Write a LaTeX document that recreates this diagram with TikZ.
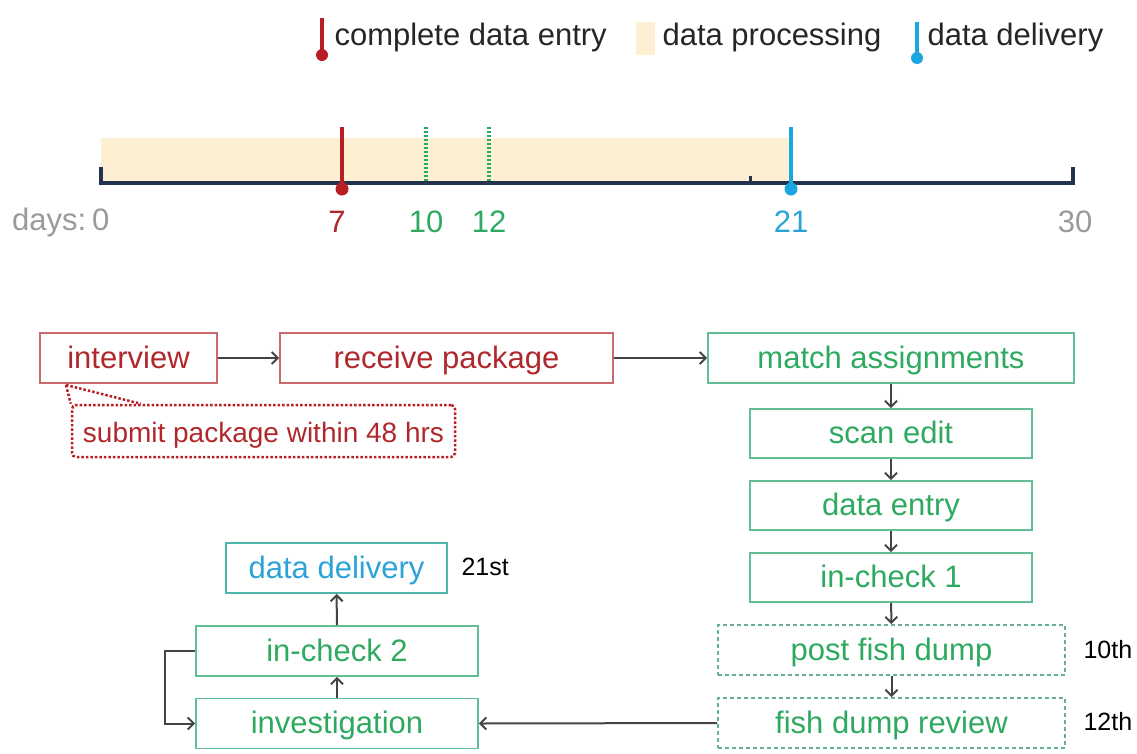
\documentclass[tikz,border=0pt]{standalone}
\usepackage{fontspec}
\setmainfont{Liberation Sans}
\usetikzlibrary{arrows.meta}
\definecolor{rtext}{HTML}{B0282C}
\definecolor{rline}{HTML}{C96A6E}
\definecolor{gtext}{HTML}{2EAA60}
\definecolor{gline}{HTML}{62BE94}
\definecolor{btext}{HTML}{2BA3D6}
\definecolor{bline}{HTML}{1AA6DE}
\definecolor{navy}{HTML}{23324F}
\definecolor{tan}{HTML}{FCEFD2}
\definecolor{greyl}{HTML}{9A9A9A}
\definecolor{darkred}{HTML}{B81E24}
\definecolor{arrowc}{HTML}{444444}
\tikzset{
  box/.style={draw, line width=1.8pt, inner sep=0pt, minimum height=50pt, text height=26pt, text depth=6pt, font=\fontsize{31}{34}\selectfont},
  redbox/.style={box, draw=rline, text=rtext},
  greenbox/.style={box, draw=gline, text=gtext},
  dashbox/.style={greenbox, dash pattern=on 4pt off 3pt, draw=gline!80!gray},
  bluebox/.style={box, draw=gline!70!bline, text=btext},
  note/.style={draw=darkred, line width=2.5pt, dotted, rounded corners=4pt, inner sep=0pt, minimum height=52pt, text height=26pt, text depth=4pt, text=rtext, font=\fontsize{28}{31}\selectfont},
  conn/.style={draw=arrowc, line width=2pt, -{Straight Barb[length=6pt,width=12pt]}},
  side/.style={font=\fontsize{25}{28}\selectfont, text=black},
  tl/.style={font=\fontsize{31}{34}\selectfont},
  leg/.style={font=\fontsize{31}{34}\selectfont, text=black!85, anchor=west},
}
\begin{document}
\begin{tikzpicture}[x=1pt,y=-1pt]
\useasboundingbox (0,0) rectangle (1137,753);
% legend
\draw[darkred, line width=4pt] (322,18) -- (322,54);
\fill[darkred] (322,55) circle (6);
\node[leg] (l1) at (331,37) {complete data entry};
\fill[tan] (636,22) rectangle (655,55);
\node[leg] (l2) at (659,37) {data processing};
\draw[bline, line width=4pt] (917,22) -- (917,57);
\fill[bline] (917,58) circle (6);
\node[leg] (l3) at (924,37) {data delivery};
% timeline
\fill[tan] (101,138) rectangle (790,183);
\draw[navy, line width=3.5pt] (101,167) -- (101,183) -- (1073,183) -- (1073,167);
\draw[navy, line width=3pt] (750,176) -- (750,183);
\draw[gtext, line width=4pt, dash pattern=on 2pt off 2pt] (426,127) -- (426,183);
\draw[gtext, line width=4pt, dash pattern=on 2pt off 2pt] (489,127) -- (489,183);
\draw[darkred, line width=3.5pt] (342,127) -- (342,189);
\fill[darkred] (342,189) circle (6.5);
\draw[bline, line width=3.5pt] (791,127) -- (791,189);
\fill[bline] (791,189) circle (6.5);
\node[tl, text=greyl, anchor=east] (d0) at (113,222) {days:\hspace{6pt}0};
\node[tl, text=rtext] (d7) at (337,222) {7};
\node[tl, text=gtext] (d10) at (426,222) {10};
\node[tl, text=gtext] (d12) at (489,222) {12};
\node[tl, text=btext] (d21) at (791,222) {21};
\node[tl, text=greyl] (d30) at (1075,222) {30};
% boxes
\node[redbox, minimum width=177pt] (interview) at (128.5,358) {interview};
\node[redbox, minimum width=333pt] (receive) at (446.5,358) {receive package};
\node[greenbox, minimum width=366pt] (match) at (891,358) {match assignments};
\node[greenbox, minimum width=282pt, minimum height=49pt] (scan) at (891,433.5) {scan edit};
\node[greenbox, minimum width=282pt, minimum height=49pt] (entry) at (891,505.5) {data entry};
\node[greenbox, minimum width=282pt, minimum height=49pt] (ic1) at (891,577.5) {in-check 1};
\node[dashbox, minimum width=347pt] (post) at (891.5,650) {post fish dump};
\node[dashbox, minimum width=347pt] (review) at (891.5,723) {fish dump review};
\node[bluebox, minimum width=221pt] (deliv) at (336.5,568) {data delivery};
\node[greenbox, minimum width=282pt] (ic2) at (337,651) {in-check 2};
\node[greenbox, minimum width=282pt] (inv) at (337,723.5) {investigation};
\node[note, minimum width=383pt] (sub) at (263.5,431) {submit package within 48 hrs};
% side labels
\node[side, anchor=west] (s21) at (458,567) {21st};
\node[side, anchor=west] (s10) at (1080,650) {10th};
\node[side, anchor=west] (s12) at (1080,722) {12th};
% callout
\coordinate (cp) at (66,385);
\draw[darkred, line width=2.5pt, dotted] (cp) -- (sub.north west);
\draw[darkred, line width=2.5pt, dotted] (cp) -- ([xshift=70pt]sub.north west);
% connectors
\draw[conn] (interview) -- (receive);
\draw[conn] (receive) -- (match);
\draw[conn] (match) -- (scan);
\draw[conn] (scan) -- (entry);
\draw[conn] (entry) -- (ic1);
\draw[conn] (ic1) -- (post);
\draw[conn] (post) -- (review);
\draw[conn] (review.west) -- (inv.east);
\draw[conn] (inv) -- (ic2);
\draw[conn] (ic2) -- (deliv);
\draw[conn] (ic2.west) -- ++(-30,0) |- (inv.west);
\end{tikzpicture}
\end{document}
